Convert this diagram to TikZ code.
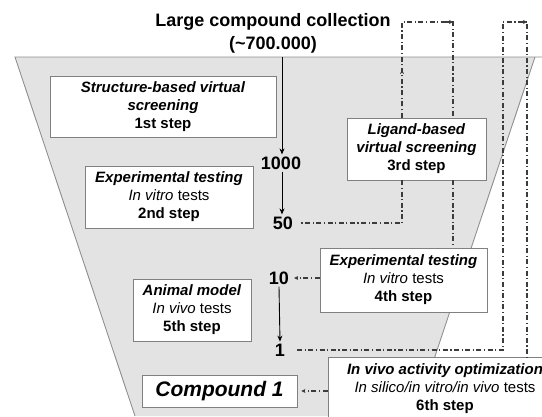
\documentclass[tikz,border=0pt]{standalone}
\usepackage{fontspec}
\setmainfont{Liberation Sans}
\usepackage{xcolor}
\usetikzlibrary{positioning, arrows.meta, calc}

\definecolor{funnelgray}{HTML}{E3E3E3}
\definecolor{edgegray}{HTML}{8F8F8F}
\definecolor{boxgray}{HTML}{808080}
\definecolor{dashgray}{HTML}{3C3C3C}

\newcommand{\bi}[1]{\textbf{\textit{#1}}}

\tikzset{
  stepbox/.style={draw=boxgray, fill=white, line width=0.9pt, inner sep=0pt, align=center, font=\fontsize{15}{18}\selectfont},
  numlabel/.style={font=\bfseries\fontsize{18}{20}\selectfont, inner sep=2pt},
  dashdot/.style={draw=dashgray, line width=1.1pt, dash pattern=on 5pt off 2.5pt on 1.2pt off 2.5pt},
  flow/.style={-{Stealth[length=6pt,width=5pt]}, line width=0.9pt},
  tip/.style={-{Stealth[length=4pt,width=4pt]}},
}

\begin{document}
\begin{tikzpicture}[x=1pt, y=-1pt]
\useasboundingbox (0,0) rectangle (542,416);
\clip (0,0) rectangle (542,416);

\fill[funnelgray] (15,57) -- (535,57) -- (415,416) -- (135,416) -- cycle;
\draw[edgegray, line width=0.9pt] (135,416) -- (15,57) -- (542,57);
\draw[edgegray, line width=0.9pt] (535,57) -- (415,416);

\node[font=\bfseries\fontsize{18}{23}\selectfont, align=center] (coll) at (273,33.5) {Large compound collection\\(\textasciitilde700.000)};

\node[stepbox, minimum width=226pt, minimum height=61pt] (sbvs) at (163,106.5) {\bi{Structure-based virtual}\\\bi{screening}\\\textbf{1st step}};
\node[stepbox, minimum width=168pt, minimum height=62pt] (exp1) at (169,197) {\bi{Experimental testing}\\\textit{In vitro} tests\\\textbf{2nd step}};
\node[stepbox, minimum width=139pt, minimum height=62pt] (lbvs) at (416.5,149) {\bi{Ligand-based}\\\bi{virtual screening}\\\textbf{3rd step}};
\node[stepbox, minimum width=167pt, minimum height=64pt] (exp2) at (403.5,280) {\bi{Experimental testing}\\\textit{In vitro} tests\\\textbf{4th step}};
\node[stepbox, minimum width=118pt, minimum height=62pt] (anim) at (192,310) {\bi{Animal model}\\\textit{In vivo} tests\\\textbf{5th step}};
\node[stepbox, minimum width=155pt, minimum height=32pt, font=\fontsize{21}{24}\selectfont] (comp) at (219.5,391) {\bi{Compound 1}};
\node[stepbox, minimum width=234pt, minimum height=64pt] (opt) at (445,389) {\bi{In vivo activity optimization}\\\textit{In silico/in vitro/in vivo} tests\\\textbf{6th step}};

\node[numlabel] (n1000) at (281,163) {1000};
\node[numlabel] (n50) at (283,223) {50};
\node[numlabel] (n10) at (279,278) {10};
\node[numlabel] (n1) at (280,350) {1};

\coordinate (ftop) at (282,57);
\coordinate (cl) at (402,22);
\coordinate (cm) at (402,70);
\coordinate (cr) at (453,22);
\coordinate (rl) at (503,22);
\coordinate (rr) at (527,22);

\draw[flow] (ftop) -- (ftop |- n1000.north);
\draw[flow] (n1000.south -| ftop) -- (n50.north -| ftop);
\draw[flow] (n10.south) -- (n1.north);

\draw[dashdot] (lbvs.north -| cl) -- (cl) -- (cr) -- (lbvs.north -| cr);
\draw[dashdot, tip] (lbvs.north -| cl) -- (cm);
\draw[dashdot, tip] ($(cr)+(-8,0)$) -- (cr);
\draw[dashdot] (lbvs.south -| cl) |- ([xshift=4pt]n50.east);
\draw[dashdot] (lbvs.south -| cr) -- (exp2.north -| cr);
\draw[dashdot, tip] (exp2.west |- n10) -- ([xshift=3pt]n10.east);
\draw[dashdot] ([xshift=10pt]n1.east) -| (rl) -- (rr) -- (opt.north -| rr);
\draw[dashdot, tip] ($(rr)+(-8,0)$) -- (rr);
\draw[dashdot, tip] (opt.west |- comp) -- ([xshift=4pt]comp.east);
\end{tikzpicture}
\end{document}
